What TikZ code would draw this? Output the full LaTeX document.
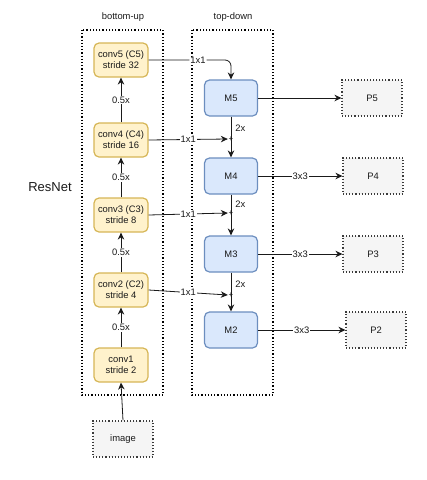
\documentclass[tikz,border=0pt]{standalone}
\usepackage{fontspec}
\setmainfont{Liberation Sans}
\usetikzlibrary{arrows.meta}
\definecolor{yfill}{HTML}{FFF2CC}
\definecolor{ydraw}{HTML}{D6B656}
\definecolor{bfill}{HTML}{DAE8FC}
\definecolor{bdraw}{HTML}{6C8EBF}
\definecolor{gfill}{HTML}{F5F5F5}
\definecolor{gdraw}{HTML}{3A3A3A}
\definecolor{txt}{HTML}{1A1A1A}
\tikzset{
  base/.style={font=\fontsize{9.4}{11}\selectfont, text=txt, align=center, inner sep=0pt},
  convbox/.style={base, draw=ydraw, fill=yfill, line width=1.2pt, rounded corners=5pt, minimum width=54pt, minimum height=34pt},
  mbox/.style={base, draw=bdraw, fill=bfill, line width=1.2pt, rounded corners=5pt, minimum width=53pt, minimum height=36pt},
  pbox/.style={base, draw=gdraw, fill=gfill, line width=1.1pt, dotted, minimum width=60pt, minimum height=36pt},
  container/.style={draw=black, line width=1.2pt, dotted},
  arr/.style={-{Stealth[length=7pt,width=6.5pt]}, line width=0.8pt, draw=txt},
  ln/.style={line width=0.8pt, draw=txt},
  lab/.style={base, fill=white, inner sep=1pt},
  plus/.style={base, font=\fontsize{8}{8}\selectfont, inner sep=0pt, minimum size=6pt},
}
\begin{document}
\begin{tikzpicture}[x=1pt,y=-1pt]
\useasboundingbox (0,0) rectangle (427,480);
% containers
\draw[container] (82,30) rectangle (163,395);
\draw[container] (192,30) rectangle (273,395);
\node[base] (tbu) at (123,17) {bottom-up};
\node[base] (ttd) at (233,17) {top-down};
\node[base, font=\fontsize{13}{15}\selectfont] (resnet) at (50,187) {ResNet};
% bottom-up
\node[convbox] (c5) at (121,60) {conv5 (C5)\\stride 32};
\node[convbox] (c4) at (121,140) {conv4 (C4)\\stride 16};
\node[convbox] (c3) at (121,215) {conv3 (C3)\\stride 8};
\node[convbox] (c2) at (121,290) {conv2 (C2)\\stride 4};
\node[convbox] (c1) at (121,365) {conv1\\stride 2};
\node[pbox] (img) at (123,439) {image};
% top-down
\node[mbox] (m5) at (231,98) {M5};
\node[mbox] (m4) at (231,176) {M4};
\node[mbox] (m3) at (231,254) {M3};
\node[mbox] (m2) at (231,330) {M2};
\node[plus] (p4) at (231,139) {+};
\node[plus] (p3) at (231,213) {+};
\node[plus] (p2) at (231,295) {+};
% outputs
\node[pbox] (o5) at (372,98) {P5};
\node[pbox] (o4) at (373,176) {P4};
\node[pbox] (o3) at (373,254) {P3};
\node[pbox] (o2) at (376,330) {P2};
% bottom-up arrows
\draw[arr] (img.north) -- (c1.south);
\draw[arr] (c1.north) -- node[lab] {0.5x} (c2.south);
\draw[arr] (c2.north) -- node[lab] {0.5x} (c3.south);
\draw[arr] (c3.north) -- node[lab] {0.5x} (c4.south);
\draw[arr] (c4.north) -- node[lab] {0.5x} (c5.south);
% lateral
\draw[arr, rounded corners=6pt] (c5.east) -| node[lab, pos=0.3] {1x1} (m5.north);
\draw[arr] (c4.east) -- node[lab] {1x1} (p4.west);
\draw[arr] (c3.east) -- node[lab] {1x1} (p3.west);
\draw[arr] (c2.east) -- node[lab] {1x1} (p2.west);
% top-down
\draw[ln] (m5.south) -- node[base, anchor=west, xshift=4pt] {2x} (p4.center);
\draw[arr] (p4.center) -- (m4.north);
\draw[ln] (m4.south) -- node[base, anchor=west, xshift=4pt] {2x} (p3.center);
\draw[arr] (p3.center) -- (m3.north);
\draw[ln] (m3.south) -- node[base, anchor=west, xshift=4pt] {2x} (p2.center);
\draw[arr] (p2.center) -- (m2.north);
% outputs
\draw[arr] (m5.east) -- (o5.west);
\draw[arr] (m4.east) -- node[lab] {3x3} (o4.west);
\draw[arr] (m3.east) -- node[lab] {3x3} (o3.west);
\draw[arr] (m2.east) -- node[lab] {3x3} (o2.west);
\end{tikzpicture}
\end{document}
